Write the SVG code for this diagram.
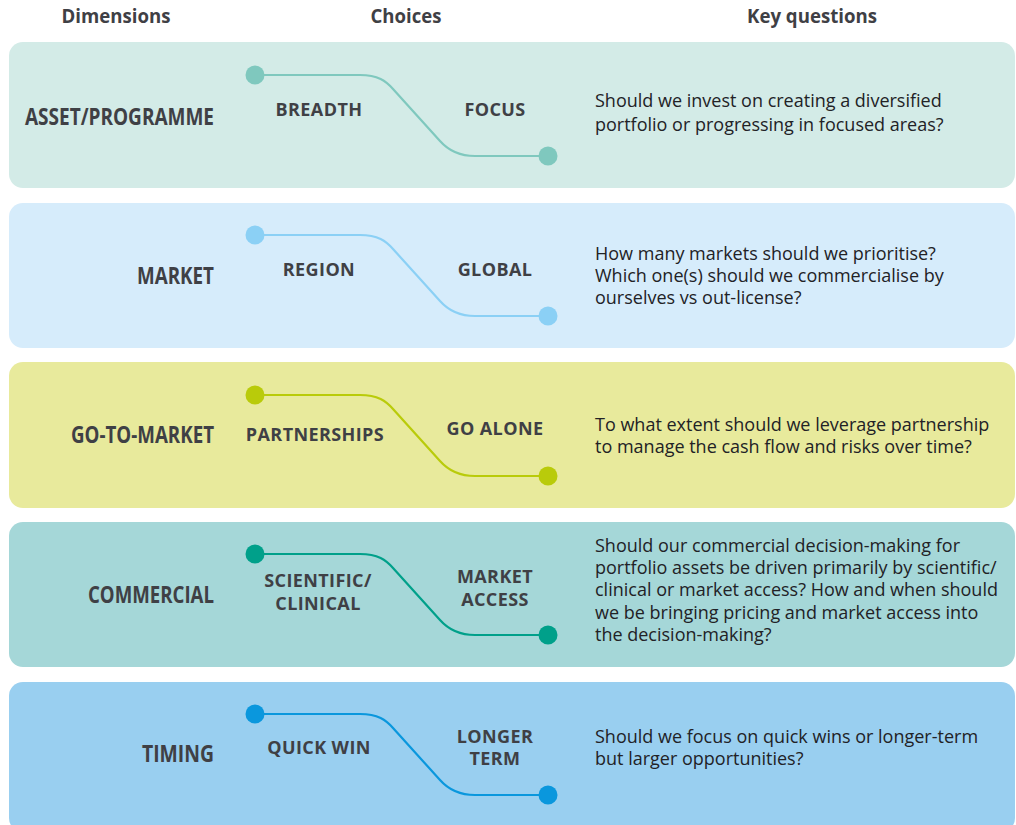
<svg xmlns="http://www.w3.org/2000/svg" width="1016" height="825" viewBox="0 0 1016 825">
<style>
.hdr{font-family:"Open Sans","DejaVu Sans",sans-serif;font-weight:700;font-size:19px;fill:#3f4045;text-anchor:middle}
.dim{font-family:"Open Sans","DejaVu Sans",sans-serif;font-weight:700;font-size:24px;fill:#3f4045;text-anchor:end}
.ch{font-family:"Open Sans","DejaVu Sans",sans-serif;font-weight:700;font-size:18px;fill:#3f4045;text-anchor:middle;letter-spacing:0.4px}
.q{font-family:"Open Sans","DejaVu Sans",sans-serif;font-size:18px;fill:#222226}
.ln{fill:none;stroke-width:2.2}
</style>
<defs>
<path id="wave" d="M255,0 H360 C378,0 386,6 393,14 L440,66 C448,75 458,81 475,81 H548"/>
</defs>
<g id="headers">
<text class="hdr" x="116" y="23" textLength="109" lengthAdjust="spacingAndGlyphs">Dimensions</text>
<text class="hdr" x="406" y="23" textLength="71" lengthAdjust="spacingAndGlyphs">Choices</text>
<text class="hdr" x="812" y="23" textLength="130" lengthAdjust="spacingAndGlyphs">Key questions</text>
</g>
<g id="row-asset">
<rect x="9" y="42" width="1006" height="146" rx="14" fill="#d3ebe7"/>
<text class="dim" x="214" y="125" textLength="189" lengthAdjust="spacingAndGlyphs">ASSET/PROGRAMME</text>
<text class="ch" x="319" y="116">BREADTH</text>
<text class="ch" x="495" y="116">FOCUS</text>
<text class="q" x="595" y="107">Should we invest on creating a diversified</text>
<text class="q" x="595" y="131">portfolio or progressing in focused areas?</text>
</g>
<g id="row-market">
<rect x="9" y="203" width="1006" height="145" rx="14" fill="#d6ecfb"/>
<text class="dim" x="214" y="284" textLength="77" lengthAdjust="spacingAndGlyphs">MARKET</text>
<text class="ch" x="319" y="276">REGION</text>
<text class="ch" x="495" y="276">GLOBAL</text>
<text class="q" x="595" y="260">How many markets should we prioritise?</text>
<text class="q" x="595" y="282">Which one(s) should we commercialise by</text>
<text class="q" x="595" y="304">ourselves vs out-license?</text>
</g>
<g id="row-gtm">
<rect x="9" y="362" width="1006" height="146" rx="14" fill="#e8ea9c"/>
<text class="dim" x="214" y="443" textLength="143" lengthAdjust="spacingAndGlyphs">GO-TO-MARKET</text>
<text class="ch" x="315" y="441">PARTNERSHIPS</text>
<text class="ch" x="495" y="435">GO ALONE</text>
<text class="q" x="595" y="431">To what extent should we leverage partnership</text>
<text class="q" x="595" y="453">to manage the cash flow and risks over time?</text>
</g>
<g id="row-commercial">
<rect x="9" y="522" width="1006" height="145" rx="14" fill="#a5d7d8"/>
<text class="dim" x="214" y="603" textLength="126" lengthAdjust="spacingAndGlyphs">COMMERCIAL</text>
<text class="ch" x="318" y="587">SCIENTIFIC/</text>
<text class="ch" x="318" y="610">CLINICAL</text>
<text class="ch" x="495" y="583">MARKET</text>
<text class="ch" x="495" y="606">ACCESS</text>
<text class="q" x="595" y="552">Should our commercial decision-making for</text>
<text class="q" x="595" y="574">portfolio assets be driven primarily by scientific/</text>
<text class="q" x="595" y="596">clinical or market access? How and when should</text>
<text class="q" x="595" y="619">we be bringing pricing and market access into</text>
<text class="q" x="595" y="641">the decision-making?</text>
</g>
<g id="row-timing">
<rect x="9" y="682" width="1006" height="150" rx="14" fill="#99cff0"/>
<text class="dim" x="214" y="762" textLength="72" lengthAdjust="spacingAndGlyphs">TIMING</text>
<text class="ch" x="319" y="754">QUICK WIN</text>
<text class="ch" x="495" y="743">LONGER</text>
<text class="ch" x="495" y="765">TERM</text>
<text class="q" x="595" y="743">Should we focus on quick wins or longer-term</text>
<text class="q" x="595" y="765">but larger opportunities?</text>
</g>
<g id="connectors">
<use href="#wave" class="ln" stroke="#7fc8be" y="75"/>
<circle cx="255" cy="75" r="9.5" fill="#7fc8be"/><circle cx="548" cy="156" r="9.5" fill="#7fc8be"/>
<use href="#wave" class="ln" stroke="#8bd0f5" y="235"/>
<circle cx="255" cy="235" r="9.5" fill="#8bd0f5"/><circle cx="548" cy="316" r="9.5" fill="#8bd0f5"/>
<use href="#wave" class="ln" stroke="#b9cb0a" y="395"/>
<circle cx="255" cy="395" r="9.5" fill="#b9cb0a"/><circle cx="548" cy="476" r="9.5" fill="#b9cb0a"/>
<use href="#wave" class="ln" stroke="#00a08a" y="554"/>
<circle cx="255" cy="554" r="9.5" fill="#00a08a"/><circle cx="548" cy="635" r="9.5" fill="#00a08a"/>
<use href="#wave" class="ln" stroke="#0a97dd" y="714"/>
<circle cx="255" cy="714" r="9.5" fill="#0a97dd"/><circle cx="548" cy="795" r="9.5" fill="#0a97dd"/>
</g>
</svg>
